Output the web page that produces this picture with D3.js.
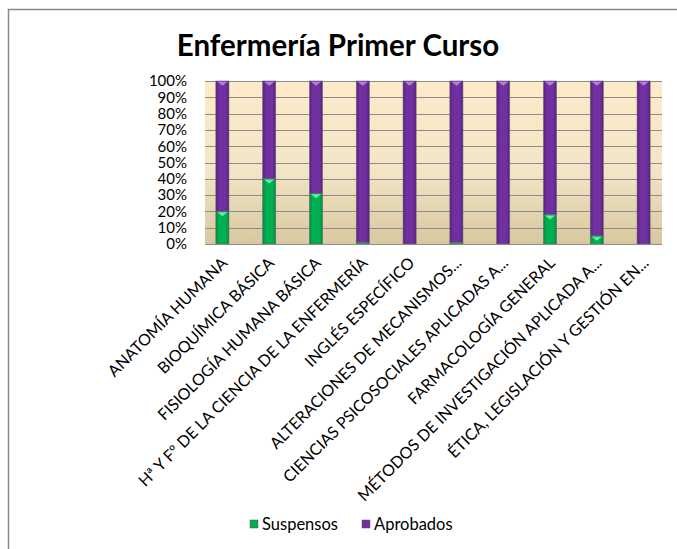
<!DOCTYPE html>
<html lang="es">
<head>
<meta charset="UTF-8">
<title>Enfermería Primer Curso</title>
<script src="https://d3js.org/d3.v7.min.js"></script>
<style>
  body { margin: 0; background: #fff; font-family: Lato, "Open Sans", sans-serif; }
  svg text { fill: #000; }
</style>
</head>
<body>
<svg id="chart" width="677" height="549"></svg>
<script>
const categories = [
  "ANATOMÍA HUMANA",
  "BIOQUÍMICA BÁSICA",
  "FISIOLOGÍA HUMANA BÁSICA",
  "Hª Y Fº DE LA CIENCIA DE LA ENFERMERÍA",
  "INGLÉS ESPECÍFICO",
  "ALTERACIONES DE MECANISMOS...",
  "CIENCIAS PSICOSOCIALES APLICADAS A...",
  "FARMACOLOGÍA GENERAL",
  "MÉTODOS DE INVESTIGACIÓN APLICADA A...",
  "ÉTICA, LEGISLACIÓN Y GESTIÓN EN..."
];
// percentage of each course
const suspensos = [20, 40, 31, 1, 0, 1, 0, 18, 5, 0];
const aprobados = [80, 60, 69, 99, 100, 99, 100, 82, 95, 100];
const seriesNames = ["Suspensos", "Aprobados"];
const yTicks = [0, 10, 20, 30, 40, 50, 60, 70, 80, 90, 100];

const svg = d3.select("#chart");
const plot = { left: 205, right: 662, top: 81, bottom: 244 };

const defs = svg.append("defs");
const bg = defs.append("linearGradient").attr("id", "bg")
  .attr("x1", 0).attr("y1", 0).attr("x2", 0).attr("y2", 1);
bg.append("stop").attr("offset", "0%").attr("stop-color", "#fdebc9");
bg.append("stop").attr("offset", "55%").attr("stop-color", "#f3e5c6");
bg.append("stop").attr("offset", "100%").attr("stop-color", "#d8c8a0");

function barGrad(id, dark, mid) {
  const g = defs.append("linearGradient").attr("id", id)
    .attr("x1", 0).attr("y1", 0).attr("x2", 1).attr("y2", 0);
  g.append("stop").attr("offset", "0%").attr("stop-color", dark);
  g.append("stop").attr("offset", "25%").attr("stop-color", mid);
  g.append("stop").attr("offset", "75%").attr("stop-color", mid);
  g.append("stop").attr("offset", "100%").attr("stop-color", dark);
}
barGrad("gGreen", "#05873f", "#00b050");
barGrad("gPurple", "#55207f", "#7030a0");
const colors = { Suspensos: "url(#gGreen)", Aprobados: "url(#gPurple)" };
const solid = { Suspensos: "#00b050", Aprobados: "#7030a0" };
const light = { Suspensos: "#5ff0a0", Aprobados: "#b37ee0" };

// frame (only top and left edges visible)
svg.append("path").attr("d", "M8.5,549 L8.5,9.5 L677,9.5")
  .attr("fill", "none").attr("stroke", "#888").attr("stroke-width", 1.5);

svg.append("text").attr("x", 338).attr("y", 56)
  .attr("text-anchor", "middle")
  .style("font-size", "29.5px").style("font-weight", "bold")
  .text("Enfermería Primer Curso");

const x = d3.scaleBand().domain(categories)
  .range([199, 667]).paddingInner(0.72).paddingOuter(0.36);
const y = d3.scaleLinear().domain([0, 100]).range([plot.bottom, plot.top]);

svg.append("rect")
  .attr("x", plot.left).attr("y", plot.top)
  .attr("width", plot.right - plot.left).attr("height", plot.bottom - plot.top)
  .attr("fill", "url(#bg)");

svg.append("g").selectAll("line").data(yTicks).join("line")
  .attr("x1", plot.left).attr("x2", plot.right)
  .attr("y1", d => Math.round(y(d)) + 0.5).attr("y2", d => Math.round(y(d)) + 0.5)
  .attr("stroke", "#8c8c8c").attr("stroke-width", 1);

const yAxis = svg.append("g").attr("transform", `translate(${plot.left},0)`)
  .call(d3.axisLeft(y).tickValues(yTicks).tickFormat(d => d + "%").tickSize(0).tickPadding(18));
yAxis.select(".domain").remove();
yAxis.selectAll("text").style("font-size", "15px").style("font-family", "Lato, sans-serif");

const rows = categories.map((c, i) => ({ cat: c, Suspensos: suspensos[i], Aprobados: aprobados[i] }));
const stacked = d3.stack().keys(seriesNames).offset(d3.stackOffsetExpand)(rows);

const bw = x.bandwidth();
stacked.forEach(layer => {
  const g = svg.append("g");
  const segs = layer.filter(d => d[1] - d[0] > 0);
  g.selectAll("rect").data(segs).join("rect")
    .attr("x", d => x(d.data.cat))
    .attr("y", d => y(d[1] * 100))
    .attr("width", bw)
    .attr("height", d => y(d[0] * 100) - y(d[1] * 100))
    .attr("fill", colors[layer.key])
    .attr("stroke", "#6d6d6d").attr("stroke-width", 0.6);
  // little bevel highlight on top of each segment
  g.selectAll("path").data(segs.filter(d => y(d[0] * 100) - y(d[1] * 100) > 4)).join("path")
    .attr("d", d => {
      const x0 = x(d.data.cat) + 1.5, x1 = x0 + bw - 3, yt = y(d[1] * 100) + 0.8;
      return `M${x0},${yt} L${x1},${yt} L${(x0 + x1) / 2},${yt + 4} Z`;
    })
    .attr("fill", light[layer.key]);
});

svg.append("line").attr("x1", plot.left).attr("x2", plot.right)
  .attr("y1", plot.bottom + 0.5).attr("y2", plot.bottom + 0.5)
  .attr("stroke", "#8c8c8c");

svg.append("g").selectAll("text").data(categories).join("text")
  .attr("transform", d => `translate(${x(d) + bw / 2 + 2},${plot.bottom + 16}) rotate(-45)`)
  .attr("text-anchor", "end")
  .attr("dy", "0.35em")
  .style("font-size", "16px")
  .text(d => d);

const legend = svg.append("g").attr("transform", "translate(250,524)");
const lx = [0, 112];
seriesNames.forEach((s, i) => {
  const item = legend.append("g").attr("transform", `translate(${lx[i]},0)`);
  item.append("rect").attr("x", 0).attr("y", -4).attr("width", 8).attr("height", 8)
    .attr("fill", solid[s]).attr("stroke", "#555").attr("stroke-width", 0.5);
  item.append("text").attr("x", 12).attr("y", 0).attr("dy", "0.35em")
    .style("font-size", "16.5px").text(s);
});
</script>
</body>
</html>
